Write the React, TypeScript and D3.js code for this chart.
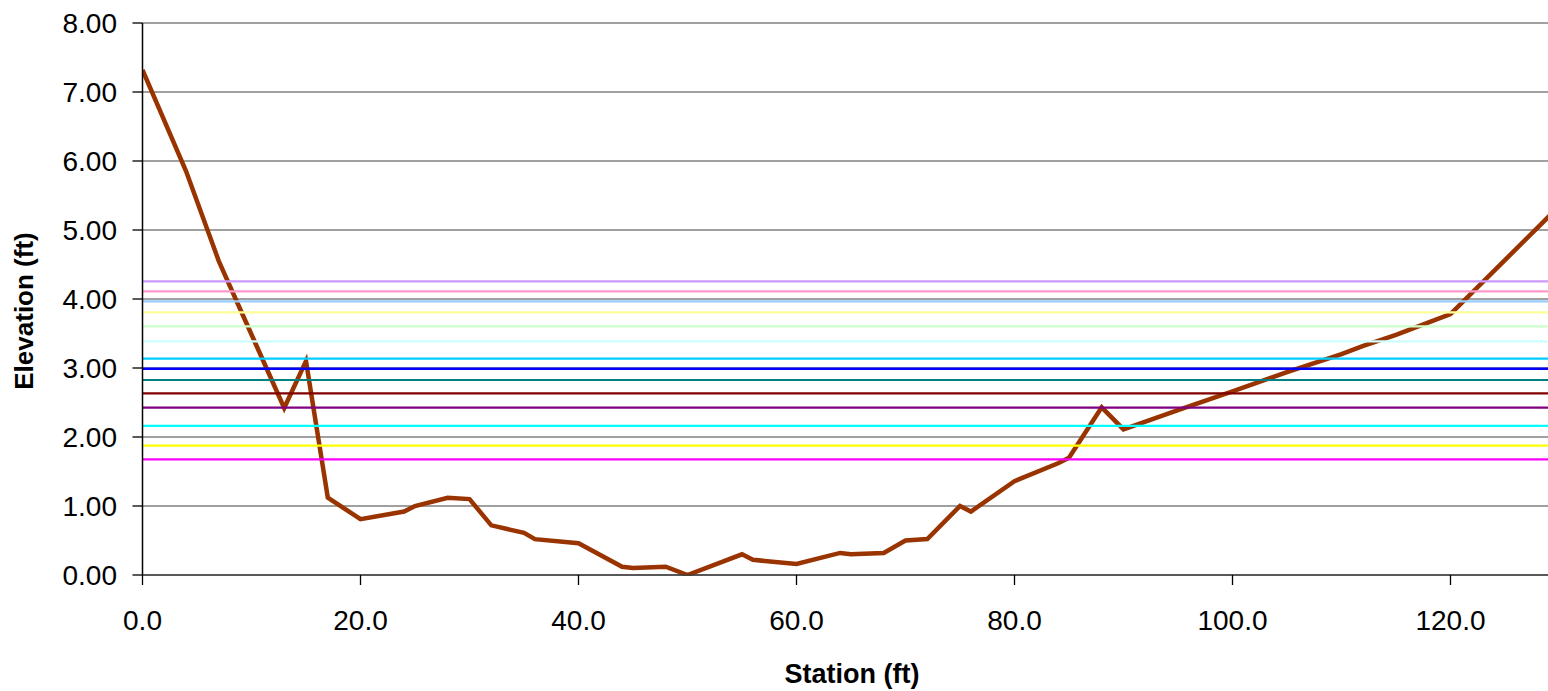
import React from "react";
import * as d3 from "d3";

const stations = [0, 4, 7, 13, 15, 17, 20, 24, 25, 28, 30, 32, 35, 36, 40, 44, 45, 48, 50, 55, 56, 60, 64, 65, 68, 70, 72, 75, 76, 80, 84, 85, 88, 90, 95, 100, 105, 110, 112, 115, 118, 120, 130];
const elevations = [7.32, 5.85, 4.55, 2.42, 3.1, 1.12, 0.81, 0.92, 1.0, 1.12, 1.1, 0.72, 0.61, 0.52, 0.46, 0.12, 0.1, 0.12, 0.0, 0.3, 0.22, 0.16, 0.32, 0.3, 0.32, 0.5, 0.52, 1.0, 0.92, 1.36, 1.62, 1.7, 2.43, 2.11, 2.39, 2.66, 2.94, 3.2, 3.32, 3.48, 3.66, 3.78, 5.35];

const waterLevels = [1.677, 1.874, 2.16, 2.425, 2.633, 2.826, 2.99, 3.135, 3.387, 3.604, 3.807, 3.967, 4.11, 4.256];
const waterColors = ["#FF00FF", "#FFFF00", "#00FFFF", "#800080", "#800000", "#008080", "#0000FF", "#00CCFF", "#CCFFFF", "#CCFFCC", "#FFFF99", "#99CCFF", "#FF99CC", "#CC99FF"];

const yTicks = [0, 1, 2, 3, 4, 5, 6, 7, 8];
const xTicks = [0, 20, 40, 60, 80, 100, 120, 140];

export default function App() {
  const W = 1548, H = 691;
  const left = 142.5, top = 23, bottom = 575;
  const x = d3.scaleLinear().domain([0, 140]).range([left, left + 140 * 10.9]);
  const y = d3.scaleLinear().domain([0, 8]).range([bottom, top]);
  const pts = stations.map((s, i) => [s, elevations[i]] as [number, number]);
  const line = d3.line<[number, number]>().x(d => x(d[0])).y(d => y(d[1]));
  const font = "Arial, 'Liberation Sans', sans-serif";
  return (
    <svg width={W} height={H} style={{ position: "absolute", left: 0, top: 0, background: "#fff" }}>
      <defs>
        <clipPath id="plot">
          <rect x={left} y={0} width={W - left} height={bottom + 1} />
        </clipPath>
      </defs>
      {yTicks.map(t => (
        <g key={t}>
          <line x1={left} x2={W} y1={y(t)} y2={y(t)} stroke="#808080" strokeWidth={1.3} />
          <line x1={left - 10} x2={left} y1={y(t)} y2={y(t)} stroke="#000" strokeWidth={1.3} />
          <text x={117} y={y(t)} dy="0.36em" textAnchor="end" fontFamily={font} fontSize={28} fill="#000">{t.toFixed(2)}</text>
        </g>
      ))}
      <g clipPath="url(#plot)">
        <path d={line(pts) ?? ""} fill="none" stroke="#993300" strokeWidth={4.5} strokeLinejoin="miter" />
        {waterLevels.map((w, i) => (
          <line key={i} x1={left} x2={W} y1={y(w)} y2={y(w)} stroke={waterColors[i]} strokeWidth={i === 6 ? 2.6 : 2.2} />
        ))}
      </g>
      <line x1={left} x2={W} y1={bottom} y2={bottom} stroke="#404040" strokeWidth={1.5} />
      <line x1={left} x2={left} y1={top} y2={bottom} stroke="#000" strokeWidth={1.5} />
      {xTicks.filter(t => x(t) < W).map(t => (
        <g key={t}>
          <line x1={x(t)} x2={x(t)} y1={bottom} y2={bottom + 10} stroke="#000" strokeWidth={1.3} />
          <text x={x(t)} y={630} textAnchor="middle" fontFamily={font} fontSize={28} fill="#000">{t.toFixed(1)}</text>
        </g>
      ))}
      <text transform={`translate(33,311) rotate(-90)`} textAnchor="middle" fontFamily={font} fontSize={26} fontWeight="bold" fill="#000">Elevation (ft)</text>
      <text x={852} y={683} textAnchor="middle" fontFamily={font} fontSize={27} fontWeight="bold" fill="#000">Station (ft)</text>
    </svg>
  );
}
